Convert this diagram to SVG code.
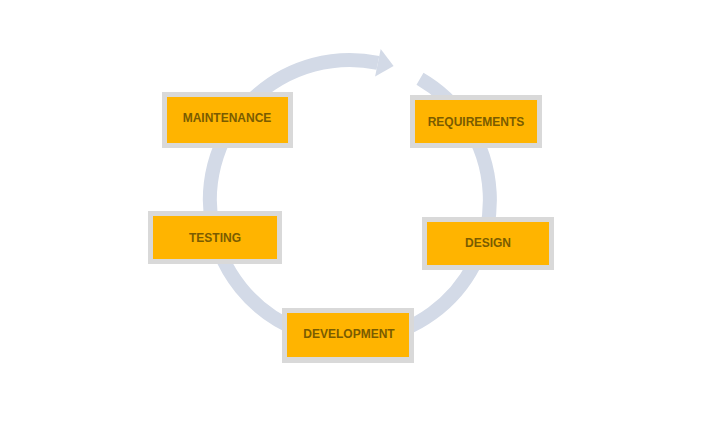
<svg xmlns="http://www.w3.org/2000/svg" width="728" height="433" viewBox="0 0 728 433">
<style>
.box-outer{fill:#d9d9d9}
.box-inner{fill:#ffb400}
.lbl{font-family:"Liberation Sans",Arial,sans-serif;font-weight:bold;font-size:12px;fill:#7a5c00;text-anchor:middle;dominant-baseline:central}
.ring{fill:none;stroke:#d3dae7;stroke-width:14}
</style>
<rect width="728" height="433" fill="#ffffff"/>
<g id="connectors">
<path class="ring" d="M420,78.8 A140,140 0 1 1 377.9,62.8"/>
<polygon points="380.7,49.1 393.6,66 375.1,76.5" fill="#d3dae7"/>
</g>
<g id="maintenance">
<rect class="box-outer" x="162" y="92" width="131" height="56"/>
<rect class="box-inner" x="167" y="97" width="121" height="46"/>
<text class="lbl" x="227" y="118">MAINTENANCE</text>
</g>
<g id="requirements">
<rect class="box-outer" x="410" y="95" width="132" height="53"/>
<rect class="box-inner" x="415" y="100" width="122" height="43"/>
<text class="lbl" x="476" y="122">REQUIREMENTS</text>
</g>
<g id="testing">
<rect class="box-outer" x="148" y="211" width="134" height="53"/>
<rect class="box-inner" x="153" y="216" width="124" height="43"/>
<text class="lbl" x="215" y="238">TESTING</text>
</g>
<g id="design">
<rect class="box-outer" x="422" y="217" width="132" height="53"/>
<rect class="box-inner" x="427" y="222" width="122" height="43"/>
<text class="lbl" x="488" y="243">DESIGN</text>
</g>
<g id="development">
<rect class="box-outer" x="282" y="308" width="132" height="55"/>
<rect class="box-inner" x="287" y="313" width="122" height="44"/>
<text class="lbl" x="349" y="334">DEVELOPMENT</text>
</g>
</svg>
